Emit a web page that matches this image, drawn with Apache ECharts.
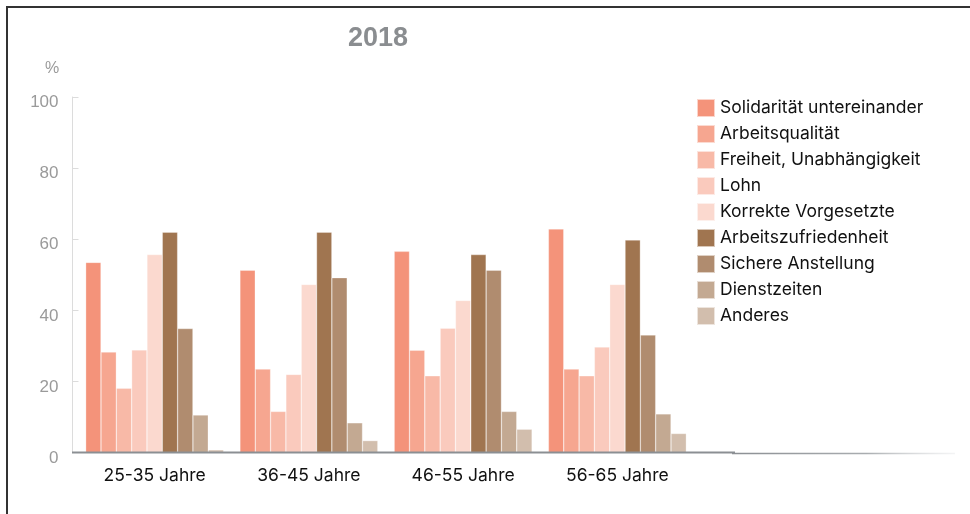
<!DOCTYPE html>
<html>
<head>
<meta charset="utf-8">
<script src="https://cdn.jsdelivr.net/npm/echarts@6/dist/echarts.min.js"></script>
<style>
  html, body { margin: 0; padding: 0; background: #fff; }
  #chart { width: 970px; height: 514px; }
</style>
</head>
<body>
<div id="chart"></div>
<script>
// Age groups on the x axis
const ageGroups = ['25-35 Jahre', '36-45 Jahre', '46-55 Jahre', '56-65 Jahre'];

// Share of respondents (%) per factor, one value per age group
const solidaritaet      = [53.5, 51.3, 56.6, 62.9];
const arbeitsqualitaet  = [28.3, 23.5, 28.8, 23.5];
const freiheit          = [18.1, 11.6, 21.6, 21.6];
const lohn              = [28.9, 22.0, 35.0, 29.7];
const vorgesetzte       = [55.7, 47.3, 42.8, 47.3];
const zufriedenheit     = [62.0, 62.0, 55.7, 59.8];
const anstellung        = [34.9, 49.2, 51.3, 33.1];
const dienstzeiten      = [10.6, 8.4, 11.6, 10.9];
const anderes           = [0.8, 3.4, 6.6, 5.4];

const seriesNames = [
  'Solidarität untereinander', 'Arbeitsqualität', 'Freiheit, Unabhängigkeit',
  'Lohn', 'Korrekte Vorgesetzte', 'Arbeitszufriedenheit',
  'Sichere Anstellung', 'Dienstzeiten', 'Anderes'
];
const seriesValues = [
  solidaritaet, arbeitsqualitaet, freiheit, lohn, vorgesetzte,
  zufriedenheit, anstellung, dienstzeiten, anderes
];
const seriesColors = [
  '#F4937A', '#F6A690', '#F8B9A7', '#FACABD', '#FBD9CF',
  '#A07550', '#B08C6F', '#C3A992', '#D2BEAD'
];

// Y axis tick values
const yTicks = [0, 20, 40, 60, 80, 100];

const font = 'Inter, "Noto Sans", sans-serif';
const sansFont = '"Liberation Sans", Arial, sans-serif';

const chart = echarts.init(document.getElementById('chart'), null, { renderer: 'canvas' });

chart.setOption({
  animation: false,
  backgroundColor: '#fff',
  legend: {
    orient: 'vertical',
    left: 696, top: 98,
    padding: 0,
    itemWidth: 18, itemHeight: 18, itemGap: 6,
    icon: 'rect',
    textStyle: { fontFamily: font, fontSize: 17.5, color: '#111', lineHeight: 18 },
    data: seriesNames
  },
  grid: { left: 77.5, top: 97, width: 617, bottom: 61.3, containLabel: false },
  xAxis: {
    type: 'category',
    data: ageGroups,
    axisLine: { show: false },
    axisTick: { show: false },
    axisLabel: { fontFamily: font, fontSize: 17.5, color: '#111', margin: 14 }
  },
  yAxis: {
    type: 'value',
    min: yTicks[0], max: yTicks[yTicks.length - 1], interval: 20,
    offset: 5,
    axisLine: { show: true, lineStyle: { color: '#dcdcdc', width: 1 } },
    axisTick: { show: true, inside: true, length: 6, lineStyle: { color: '#dcdcdc' } },
    splitLine: { show: false },
    axisLabel: { fontFamily: sansFont, fontSize: 17, color: '#9a9a9a', margin: 14, verticalAlign: 'top', lineHeight: 11 }
  },
  graphic: [
    // outer frame
    { type: 'polyline', shape: { points: [[7, 514], [7, 7], [970, 7]] },
      style: { stroke: '#333', lineWidth: 2, fill: null }, silent: true },
    // chart title and unit
    { type: 'text', x: 378, y: 39,
      style: { text: '2018', font: 'bold 27px ' + sansFont, fill: '#8a8d90', align: 'center', verticalAlign: 'middle' } },
    { type: 'text', x: 52, y: 69,
      style: { text: '%', font: '16px ' + sansFont, fill: '#9a9a9a', align: 'center', verticalAlign: 'middle' } },
    // baseline under the bars
    { type: 'line', shape: { x1: 72, y1: 452.5, x2: 735, y2: 452.5 },
      style: { stroke: '#8b8f93', lineWidth: 2 }, z: 10, silent: true },
    { type: 'line', shape: { x1: 732, y1: 453.5, x2: 955, y2: 453.5 },
      style: {
        lineWidth: 1.5,
        stroke: new echarts.graphic.LinearGradient(0, 0, 1, 0, [
          { offset: 0, color: '#8b8f93' },
          { offset: 0.6, color: '#a9adb0' },
          { offset: 1, color: 'rgba(220,222,224,0.3)' }
        ], false)
      }, z: 10, silent: true }
  ],
  series: seriesNames.map((name, i) => ({
    name,
    type: 'bar',
    data: seriesValues[i],
    barGap: '0%',
    barCategoryGap: '10.6%',
    itemStyle: { color: seriesColors[i], borderColor: 'rgba(255,255,255,0.6)', borderWidth: 0.5 }
  }))
});
</script>
</body>
</html>
